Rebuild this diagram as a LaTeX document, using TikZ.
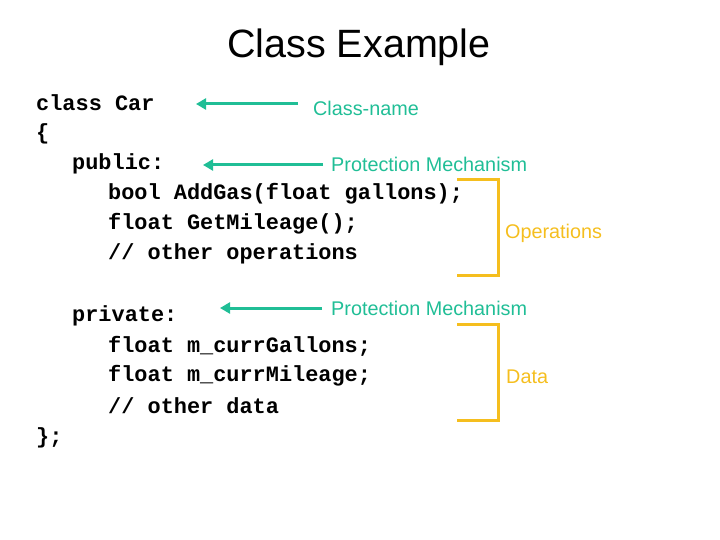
\documentclass[tikz,border=0pt]{standalone}
\usepackage{fontspec}
\setmainfont{Liberation Sans}
\newfontfamily\codefont{Liberation Mono}
\usetikzlibrary{arrows.meta}
\definecolor{teal1}{RGB}{32,190,150}
\definecolor{gold1}{RGB}{245,190,30}
\tikzset{
 code/.style={anchor=west,inner sep=0pt,font=\codefont\bfseries\fontsize{21.9}{24}\selectfont},
 lab/.style={anchor=west,inner sep=0pt,text=teal1,font=\fontsize{19.8}{22}\selectfont},
 olab/.style={anchor=west,inner sep=0pt,text=gold1,font=\fontsize{19.8}{22}\selectfont},
 arr/.style={draw=teal1,line width=3pt,-{Triangle[length=10pt,width=11pt]}},
 brk/.style={draw=gold1,line width=3pt},
}
\begin{document}
\begin{tikzpicture}[x=1pt,y=-1pt]
\useasboundingbox (0,0) rectangle (720,540);
\node[inner sep=0pt,font=\fontsize{39.5}{44}\selectfont] (title) at (359,47) {Class Example};
\node[code] (l1) at (36,103) {class Car};
\node[code] (l2) at (36,134) {\{};
\node[code] (l3) at (72,164) {public:};
\node[code] (l4) at (108,194) {bool AddGas(float gallons);};
\node[code] (l5) at (108,224) {float GetMileage();};
\node[code] (l6) at (108,254) {// other operations};
\node[code] (l7) at (72,316) {private:};
\node[code] (l8) at (108,346) {float m\_currGallons;};
\node[code] (l9) at (108,376) {float m\_currMileage;};
\node[code] (l10) at (108,406) {// other data};
\node[code] (l11) at (36,438) {\};};
\node[lab] (c1) at (313,108) {Class-name};
\node[lab] (c2) at (331,164) {Protection Mechanism};
\node[lab] (c3) at (331,308) {Protection Mechanism};
\node[olab] (o1) at (505,233) {Operations};
\node[olab] (o2) at (506,377) {Data};
\coordinate (a1s) at (298,104); \coordinate (a1e) at (196,104);
\coordinate (a2s) at (323,165); \coordinate (a2e) at (203,165);
\coordinate (a3s) at (322,308); \coordinate (a3e) at (220,308);
\draw[arr] (a1s) -- (a1e);
\draw[arr] (a2s) -- (a2e);
\draw[arr] (a3s) -- (a3e);
\coordinate (b1a) at (457,180); \coordinate (b1b) at (498,180);
\coordinate (b1c) at (498,275); \coordinate (b1d) at (457,275);
\draw[brk] (b1a) -- (b1b) -- (b1c) -- (b1d);
\coordinate (b2a) at (457,324); \coordinate (b2b) at (498,324);
\coordinate (b2c) at (498,420); \coordinate (b2d) at (457,420);
\draw[brk] (b2a) -- (b2b) -- (b2c) -- (b2d);
\end{tikzpicture}
\end{document}
